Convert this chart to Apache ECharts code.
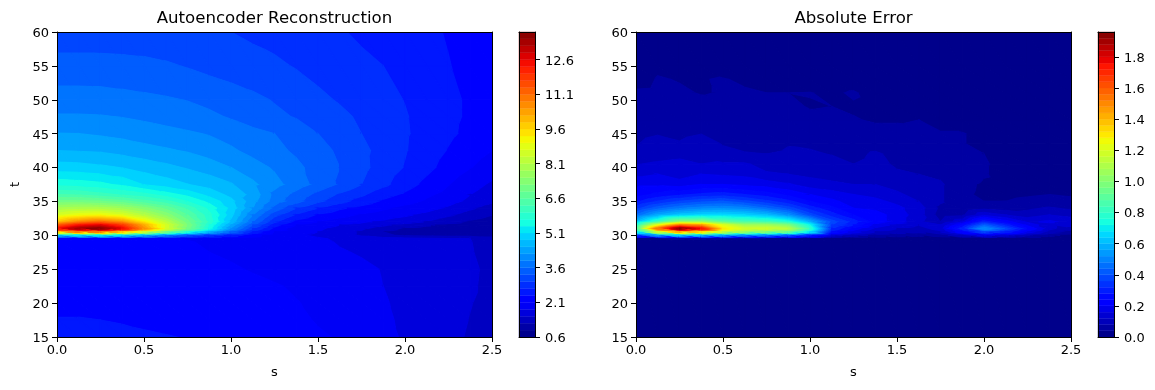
<!DOCTYPE html>
<html>
<head>
<meta charset="utf-8">
<style>html,body{margin:0;padding:0;background:#fff}#main{width:1155px;height:390px}</style>
<script src="https://cdn.jsdelivr.net/npm/echarts@6/dist/echarts.min.js"></script>
</head>
<body>
<div id="main"></div>
<script>
var sValues = [0,0.125,0.25,0.375,0.5,0.625,0.75,0.875,1,1.125,1.25,1.375,1.5,1.625,1.75,1.875,2,2.125,2.25,2.375,2.5];

var reconT = [60,55,50,47.5,45,42.5,40,37.5,36,35,34,33,32,31.5,31,30.5,30,29.5,29,27.5,25,22.5,20,17.5,15];
var reconValues = [
  [3.12,3.12,3.11,3.10,3.09,3.07,3.05,3.03,3.00,2.95,2.90,2.85,2.79,2.72,2.66,2.60,2.52,2.45,2.38,2.30,2.25],
  [3.41,3.41,3.41,3.40,3.38,3.34,3.28,3.21,3.15,3.09,3.05,2.98,2.89,2.82,2.75,2.70,2.60,2.50,2.41,2.33,2.25],
  [3.73,3.73,3.72,3.69,3.66,3.63,3.59,3.52,3.45,3.37,3.28,3.17,3.07,2.97,2.87,2.79,2.69,2.58,2.46,2.36,2.27],
  [3.93,3.93,3.92,3.89,3.84,3.78,3.72,3.66,3.57,3.46,3.36,3.28,3.17,3.07,2.95,2.83,2.72,2.60,2.46,2.36,2.27],
  [4.21,4.20,4.16,4.11,4.05,4.00,3.94,3.88,3.77,3.68,3.60,3.45,3.30,3.15,3.00,2.87,2.73,2.60,2.45,2.33,2.22],
  [4.50,4.48,4.46,4.39,4.31,4.24,4.17,4.05,3.95,3.80,3.68,3.55,3.40,3.25,3.07,2.90,2.72,2.55,2.38,2.24,2.10],
  [4.94,4.92,4.86,4.79,4.68,4.58,4.47,4.36,4.20,4.03,3.86,3.67,3.48,3.30,3.08,2.87,2.68,2.48,2.28,2.11,1.95],
  [5.60,5.55,5.48,5.33,5.08,4.95,4.81,4.67,4.53,4.26,4.00,3.75,3.50,3.25,3.00,2.77,2.53,2.31,2.11,1.91,1.75],
  [6.30,6.25,6.10,5.95,5.80,5.55,5.30,5.00,4.70,4.40,3.80,3.50,3.20,2.95,2.75,2.50,2.35,2.15,2.00,1.80,1.65],
  [7.00,7.00,6.90,6.70,6.40,6.10,5.70,5.30,4.90,4.30,3.75,3.40,3.05,2.80,2.55,2.35,2.20,2.05,1.90,1.72,1.55],
  [7.80,7.90,7.90,7.70,7.30,6.80,6.20,5.60,5.00,4.20,3.50,3.00,2.70,2.45,2.30,2.15,2.00,1.90,1.75,1.55,1.35],
  [8.60,8.90,9.00,8.70,8.10,7.40,6.60,5.80,4.90,3.90,3.10,2.65,2.35,2.20,2.05,1.95,1.85,1.72,1.55,1.35,1.20],
  [9.80,10.6,11.0,10.5,9.30,8.20,7.00,5.90,4.70,3.60,2.75,2.30,2.10,1.95,1.85,1.75,1.62,1.48,1.30,1.15,1.05],
  [11.2,12.2,12.6,11.8,10.2,8.60,7.20,5.70,4.40,3.30,2.50,2.10,1.95,1.80,1.70,1.55,1.42,1.25,1.12,1.05,1.00],
  [12.4,13.4,13.7,12.6,10.6,8.60,7.00,5.50,4.10,3.00,2.30,1.95,1.85,1.70,1.55,1.35,1.15,1.05,1.00,0.98,0.95],
  [10.0,11.0,11.0,10.0,8.60,7.20,5.80,4.60,3.50,2.60,2.10,1.90,1.80,1.65,1.45,1.20,1.05,1.00,0.98,0.98,0.98],
  [4.80,5.20,5.40,5.10,4.50,3.90,3.30,2.90,2.60,2.20,1.95,1.85,1.75,1.62,1.45,1.25,1.15,1.10,1.05,1.05,1.05],
  [2.20,2.20,2.18,2.16,2.14,2.12,2.09,2.06,2.03,2.00,1.95,1.90,1.83,1.76,1.68,1.62,1.58,1.55,1.53,1.50,1.35],
  [2.20,2.20,2.19,2.18,2.16,2.14,2.11,2.08,2.05,2.02,1.98,1.92,1.85,1.78,1.70,1.65,1.60,1.57,1.54,1.51,1.38],
  [2.24,2.23,2.22,2.21,2.20,2.17,2.14,2.10,2.06,2.03,1.98,1.93,1.87,1.82,1.78,1.72,1.66,1.61,1.57,1.52,1.40],
  [2.28,2.28,2.27,2.26,2.25,2.23,2.20,2.17,2.13,2.08,2.03,1.98,1.93,1.88,1.84,1.79,1.73,1.67,1.62,1.55,1.43],
  [2.32,2.32,2.31,2.30,2.29,2.27,2.25,2.22,2.19,2.16,2.12,2.07,2.01,1.93,1.86,1.80,1.74,1.68,1.62,1.54,1.42],
  [2.35,2.35,2.34,2.33,2.32,2.30,2.28,2.25,2.22,2.19,2.15,2.11,2.06,1.97,1.89,1.82,1.75,1.68,1.60,1.51,1.42],
  [2.41,2.41,2.40,2.38,2.36,2.34,2.31,2.28,2.25,2.22,2.19,2.15,2.08,2.00,1.92,1.84,1.76,1.68,1.59,1.49,1.40],
  [2.52,2.50,2.48,2.46,2.43,2.41,2.39,2.35,2.31,2.27,2.23,2.19,2.13,2.08,1.98,1.87,1.77,1.68,1.57,1.47,1.38]
];

var errorT = [60,55,53,51,49,47,45,43.5,42,40.5,39,37.5,36,35,34,33,32,31.5,31,30.5,30,29.5,29,15];
var errorValues = [
  [.01,.01,.01,.01,.01,.01,.01,.01,.01,.01,.01,.01,.01,.01,.01,.01,.01,.01,.01,.01,.01],
  [.015,.032,.036,.025,.015,.015,.015,.015,.015,.015,.015,.015,.015,.015,.01,.01,.01,.01,.01,.01,.01],
  [.02,.043,.038,.038,.043,.032,.025,.02,.02,.02,.02,.015,.015,.015,.01,.01,.01,.01,.01,.01,.01],
  [.048,.05,.045,.038,.042,.046,.04,.04,.041,.034,.044,.025,.02,.02,.015,.01,.01,.01,.01,.01,.01],
  [.055,.056,.055,.052,.05,.052,.05,.046,.038,.04,.036,.03,.025,.02,.02,.015,.012,.01,.01,.01,.01],
  [.06,.062,.06,.058,.056,.058,.056,.052,.048,.048,.042,.037,.037,.04,.03,.02,.015,.01,.01,.01,.01],
  [.072,.078,.072,.079,.07,.065,.065,.062,.06,.055,.055,.05,.05,.048,.042,.042,.03,.015,.01,.01,.01],
  [.078,.09,.083,.095,.078,.072,.068,.078,.074,.068,.062,.066,.06,.056,.05,.042,.03,.02,.012,.01,.01],
  [.1,.105,.11,.105,.088,.082,.08,.085,.085,.078,.07,.085,.07,.06,.052,.048,.04,.02,.012,.01,.01],
  [.118,.125,.13,.12,.125,.125,.105,.1,.095,.095,.08,.09,.075,.062,.058,.052,.045,.025,.012,.01,.01],
  [.15,.16,.14,.16,.155,.15,.125,.12,.11,.1,.1,.1,.085,.08,.072,.075,.045,.02,.02,.012,.01],
  [.19,.19,.18,.2,.2,.19,.18,.165,.14,.13,.12,.12,.1,.09,.085,.055,.032,.025,.02,.03,.02],
  [.22,.25,.27,.29,.3,.28,.26,.23,.2,.18,.16,.15,.13,.1,.085,.05,.03,.03,.035,.04,.035],
  [.27,.32,.36,.39,.4,.37,.33,.29,.24,.21,.18,.17,.15,.12,.085,.05,.04,.04,.05,.055,.05],
  [.34,.42,.47,.5,.51,.49,.44,.38,.3,.25,.2,.19,.17,.14,.07,.05,.07,.06,.07,.085,.07],
  [.44,.56,.62,.65,.66,.64,.6,.52,.38,.3,.24,.22,.18,.14,.06,.07,.15,.12,.1,.12,.11],
  [.6,.8,1.0,1.0,.9,.85,.82,.75,.58,.38,.3,.22,.18,.13,.08,.15,.3,.22,.15,.17,.14],
  [.75,1.2,1.5,1.45,1.2,1.05,1.05,.98,.72,.36,.28,.18,.15,.12,.12,.24,.42,.3,.19,.13,.13],
  [.85,1.55,1.95,1.75,1.3,1.18,1.18,1.12,.8,.32,.22,.15,.12,.1,.14,.3,.52,.38,.24,.13,.1],
  [.7,1.2,1.45,1.35,1.15,1.05,1,.95,.68,.26,.18,.12,.1,.09,.12,.24,.38,.3,.18,.1,.06],
  [.35,.55,.65,.6,.55,.5,.48,.42,.3,.14,.1,.07,.06,.05,.06,.12,.18,.14,.09,.05,.03],
  [.03,.04,.05,.05,.045,.04,.04,.035,.03,.02,.015,.01,.01,.01,.01,.015,.02,.015,.01,.01,.01],
  [.006,.006,.006,.006,.006,.006,.006,.006,.006,.006,.006,.006,.006,.006,.006,.006,.006,.006,.006,.006,.006],
  [.003,.003,.003,.003,.003,.003,.003,.003,.003,.003,.003,.003,.003,.003,.003,.003,.003,.003,.003,.003,.003]
];

var reconTicks = [0.6,2.1,3.6,5.1,6.6,8.1,9.6,11.1,12.6];
var errorTicks = [0,0.2,0.4,0.6,0.8,1,1.2,1.4,1.6,1.8];

var reconLevels = {min: 0.6, step: 0.3, count: 44};
var errorLevels = {min: 0, step: 0.04, count: 49};

var FONT = 'DejaVu Sans';

function lerp(stops, c) {
    for (var i = 1; i < stops.length; i++) {
        if (c <= stops[i][0]) {
            var a = stops[i - 1], b = stops[i];
            return a[1] + (b[1] - a[1]) * (c - a[0]) / (b[0] - a[0]);
        }
    }
    return stops[stops.length - 1][1];
}

// matplotlib jet
function jet(c) {
    var r = lerp([[0,0],[0.35,0],[0.66,1],[0.89,1],[1,0.5]], c);
    var g = lerp([[0,0],[0.125,0],[0.375,1],[0.64,1],[0.91,0],[1,0]], c);
    var b = lerp([[0,0.5],[0.11,1],[0.34,1],[0.65,0],[1,0]], c);
    return 'rgb(' + Math.round(r * 255) + ',' + Math.round(g * 255) + ',' + Math.round(b * 255) + ')';
}

function clipSide(poly, level, keepAbove) {
    var out = [];
    for (var i = 0; i < poly.length; i++) {
        var p = poly[i], q = poly[(i + 1) % poly.length];
        var pIn = keepAbove ? p[2] >= level : p[2] <= level;
        var qIn = keepAbove ? q[2] >= level : q[2] <= level;
        if (pIn) out.push(p);
        if (pIn !== qIn) {
            var f = (level - p[2]) / (q[2] - p[2]);
            out.push([p[0] + (q[0] - p[0]) * f, p[1] + (q[1] - p[1]) * f, level]);
        }
    }
    return out;
}

// one cell of the filled contour: split in two triangles, cut each by the levels
function contourCell(api, tri, levels, children) {
    var vals = tri.map(function (p) { return p[2]; });
    var lowest = Math.floor((Math.min.apply(null, vals) - levels.min) / levels.step);
    var highest = Math.floor((Math.max.apply(null, vals) - levels.min) / levels.step);
    for (var k = Math.max(lowest, 0); k <= Math.min(highest, levels.count - 1); k++) {
        var lo = levels.min + k * levels.step;
        var piece = clipSide(clipSide(tri, lo, true), lo + levels.step, false);
        if (piece.length < 3) continue;
        var color = jet((k + 0.5) / levels.count);
        children.push({
            type: 'polygon',
            shape: {points: piece.map(function (p) { return api.coord([p[0], p[1]]); })},
            style: {fill: color, stroke: color, lineWidth: 1.2}
        });
    }
}

function contourSeries(index, ts, values, levels) {
    var cells = [];
    for (var j = 0; j < ts.length - 1; j++) {
        for (var i = 0; i < sValues.length - 1; i++) {
            cells.push([sValues[i], ts[j], i, j]);
        }
    }
    return {
        type: 'custom',
        xAxisIndex: index,
        yAxisIndex: index,
        silent: true,
        clip: true,
        animation: false,
        encode: {x: 0, y: 1},
        data: cells,
        renderItem: function (params, api) {
            var i = api.value(2), j = api.value(3);
            var a = [sValues[i], ts[j], values[j][i]];
            var b = [sValues[i + 1], ts[j], values[j][i + 1]];
            var c = [sValues[i + 1], ts[j + 1], values[j + 1][i + 1]];
            var d = [sValues[i], ts[j + 1], values[j + 1][i]];
            var children = [];
            contourCell(api, [a, b, c], levels, children);
            contourCell(api, [a, c, d], levels, children);
            return {type: 'group', children: children};
        }
    };
}

function colorbarSeries(index, levels) {
    var bands = [];
    for (var k = 0; k < levels.count; k++) bands.push([levels.min + k * levels.step, k]);
    return {
        type: 'custom',
        xAxisIndex: index,
        yAxisIndex: index,
        silent: true,
        animation: false,
        encode: {y: 0},
        data: bands,
        renderItem: function (params, api) {
            var lo = api.value(0), k = api.value(1);
            var p0 = api.coord([0, lo + levels.step]);
            var p1 = api.coord([1, lo]);
            var color = jet((k + 0.5) / levels.count);
            return {
                type: 'rect',
                shape: {x: p0[0], y: p0[1], width: p1[0] - p0[0], height: p1[1] - p0[1]},
                style: {fill: color, stroke: color, lineWidth: 0.4}
            };
        }
    };
}

var tickStyle = {length: 5, lineStyle: {color: '#000', width: 1}};
var labelStyle = {color: '#000', fontFamily: FONT, fontSize: 13};
var sideLabel = {verticalAlign: 'top', padding: [-5, 0, 0, 0]};
var boxLine = {show: true, onZero: false, lineStyle: {color: '#000', width: 1}};
var nameStyle = {color: '#000', fontFamily: FONT, fontSize: 13};

function mainXAxis(gridIndex) {
    return {
        type: 'value', gridIndex: gridIndex, min: 0, max: 2.5, interval: 0.5,
        name: 's', nameLocation: 'middle', nameGap: 29, nameTextStyle: nameStyle,
        axisLine: boxLine, axisTick: tickStyle,
        axisLabel: Object.assign({margin: 7, formatter: function (v) { return v.toFixed(1); }}, labelStyle),
        splitLine: {show: false}, z: 5
    };
}

function mainYAxis(gridIndex, name) {
    return {
        type: 'value', gridIndex: gridIndex, min: 15, max: 60, interval: 5,
        name: name, nameLocation: 'middle', nameGap: 35, nameTextStyle: nameStyle,
        axisLine: boxLine, axisTick: tickStyle,
        axisLabel: Object.assign({margin: 8}, sideLabel, labelStyle),
        splitLine: {show: false}, z: 5
    };
}

function hiddenAxis(gridIndex, position) {
    return {type: 'value', gridIndex: gridIndex, position: position, min: 0, max: 1,
        axisLine: boxLine,
        axisTick: {show: false}, axisLabel: {show: false}, splitLine: {show: false}, z: 5};
}

function barYAxis(gridIndex, levels, ticks) {
    return {
        type: 'value', gridIndex: gridIndex, position: 'right',
        min: levels.min, max: levels.min + levels.step * levels.count,
        axisLine: boxLine,
        axisTick: Object.assign({customValues: ticks}, tickStyle),
        axisLabel: Object.assign({customValues: ticks, margin: 10, formatter: function (v) { return v.toFixed(1); }}, sideLabel, labelStyle),
        splitLine: {show: false}, z: 5
    };
}

var chart = echarts.init(document.getElementById('main'));

var leftBox = {left: 57, top: 32, width: 435, height: 305};
var rightBox = {left: 636, top: 32, width: 435, height: 305};
var leftBar = {left: 519, top: 32, width: 16, height: 305};
var rightBar = {left: 1098, top: 32, width: 16, height: 305};

chart.setOption({
    animation: false,
    backgroundColor: '#fff',
    title: [
        {text: 'Autoencoder Reconstruction', left: 274.5, top: 10, padding: 0, textAlign: 'center',
            textStyle: {color: '#000', fontFamily: FONT, fontSize: 16.6, fontWeight: 'normal'}},
        {text: 'Absolute Error', left: 853.5, top: 10, padding: 0, textAlign: 'center',
            textStyle: {color: '#000', fontFamily: FONT, fontSize: 16.6, fontWeight: 'normal'}}
    ],
    // each frame twice: second copy only holds the top and right lines
    grid: [leftBox, rightBox, leftBar, rightBar, leftBox, rightBox, leftBar, rightBar],
    xAxis: [
        mainXAxis(0), mainXAxis(1),
        hiddenAxis(2, 'bottom'), hiddenAxis(3, 'bottom'),
        hiddenAxis(4, 'top'), hiddenAxis(5, 'top'), hiddenAxis(6, 'top'), hiddenAxis(7, 'top')
    ],
    yAxis: [
        mainYAxis(0, 't'), mainYAxis(1, ''),
        barYAxis(2, reconLevels, reconTicks), barYAxis(3, errorLevels, errorTicks),
        hiddenAxis(4, 'right'), hiddenAxis(5, 'right'), hiddenAxis(6, 'left'), hiddenAxis(7, 'left')
    ],
    series: [
        contourSeries(0, reconT, reconValues, reconLevels),
        contourSeries(1, errorT, errorValues, errorLevels),
        colorbarSeries(2, reconLevels),
        colorbarSeries(3, errorLevels)
    ]
});
</script>
</body>
</html>
